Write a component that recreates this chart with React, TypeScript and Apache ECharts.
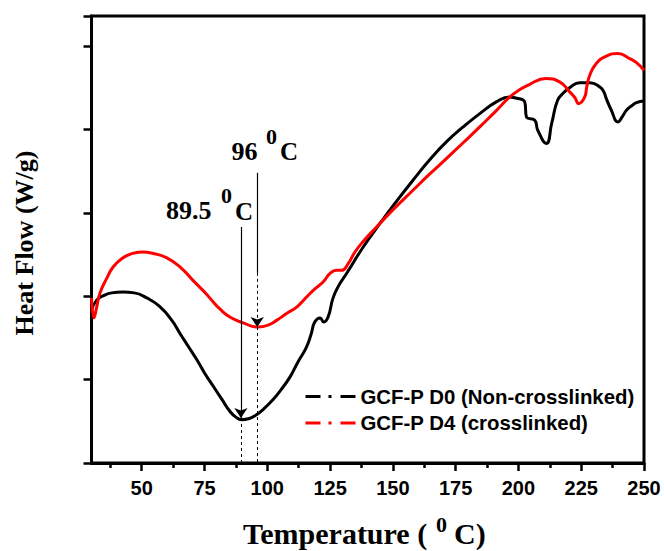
import React, { useEffect, useRef } from "react";
import * as echarts from "echarts";

// ---- Data ----
const tempD0 = [30, 32, 35, 38, 42.5, 47, 52, 57, 62, 65.3, 68.5, 71.9, 75, 78.5, 82, 85.1, 87.5, 89.8, 92.5, 95.7, 99, 102.3, 105.5, 109, 112, 115.6, 117.5, 118.9, 121, 122.5, 124.2, 126.2, 128.5, 131.5, 138.2, 144.8, 151.5, 158, 164.5, 171.3, 178, 184.6, 191.2, 196.5, 198.5, 202.5, 203.2, 206.5, 207.7, 211.1, 213.3, 215.6, 218, 220.4, 224.4, 228.4, 232.4, 234, 235, 237, 239.6, 241.5, 243, 245, 247, 250];
const heatD0 = [1.83, 1.95, 2.01, 2.04, 2.05, 2.04, 1.98, 1.88, 1.71, 1.55, 1.4, 1.24, 1.08, 0.92, 0.76, 0.62, 0.55, 0.52, 0.53, 0.58, 0.66, 0.76, 0.88, 1.03, 1.2, 1.39, 1.55, 1.69, 1.74, 1.69, 1.75, 1.98, 2.13, 2.27, 2.59, 2.87, 3.14, 3.39, 3.63, 3.85, 4.03, 4.19, 4.33, 4.39, 4.38, 4.33, 4.15, 4.11, 3.99, 3.83, 4.08, 4.35, 4.44, 4.5, 4.56, 4.56, 4.51, 4.45, 4.37, 4.23, 4.09, 4.16, 4.23, 4.28, 4.32, 4.34];

const tempD4 = [30, 31, 32, 33.4, 36, 38.6, 42, 46, 50, 55, 60, 65.3, 70.4, 75, 78.5, 81, 85.1, 90.4, 96.4, 100, 103.7, 107.5, 111.7, 115, 118.3, 122.2, 124.9, 127.5, 129.6, 132.2, 134.9, 138, 143.5, 150.5, 158, 164.5, 171.3, 178, 184.6, 191, 197.8, 204.5, 211, 216.4, 220.4, 222.5, 224, 226.4, 227.2, 228.4, 231, 235, 239.6, 244.3, 247, 250];
const heatD4 = [1.98, 1.74, 1.86, 2.04, 2.21, 2.35, 2.45, 2.51, 2.53, 2.51, 2.46, 2.35, 2.19, 2.05, 1.93, 1.85, 1.75, 1.68, 1.63, 1.65, 1.71, 1.79, 1.87, 1.97, 2.07, 2.17, 2.27, 2.31, 2.31, 2.39, 2.53, 2.65, 2.83, 3.05, 3.27, 3.46, 3.65, 3.84, 4.03, 4.22, 4.42, 4.54, 4.61, 4.57, 4.45, 4.38, 4.31, 4.39, 4.51, 4.65, 4.79, 4.88, 4.91, 4.85, 4.8, 4.71];

const seriesNames = ["GCF-P D0 (Non-crosslinked)", "GCF-P D4 (crosslinked)"];
const xMajorTicks = [50, 75, 100, 125, 150, 175, 200, 225, 250];
const xMinorTicks = [37.5, 62.5, 87.5, 112.5, 137.5, 162.5, 187.5, 212.5, 237.5];

// Peak annotations: temperature, arrow start, arrow tip, solid/dashed split
const peakTemps = [89.5, 96];
const peakArrowTop = [2.83, 3.48];
const peakArrowTip = [0.54, 1.63];
const peakSolidEnd = [0.54, 2.28];

const SERIF = '"Liberation Serif", "Times New Roman", serif';
const SANS = '"Liberation Sans", Arial, sans-serif';

export default function App() {
  const ref = useRef<HTMLDivElement>(null);

  useEffect(() => {
    if (!ref.current) return;
    const chart = echarts.init(ref.current, undefined, { renderer: "svg" });

    const solid = { type: "solid", width: 1.2, color: "#000" };
    const dashed = { type: [3, 3], width: 1, color: "#000" };
    const markData: any[] = [];
    peakTemps.forEach((t, i) => {
      const top = peakArrowTop[i];
      const tip = peakArrowTip[i];
      const split = peakSolidEnd[i];
      if (split > tip) {
        markData.push([
          { coord: [t, top], symbol: "none", lineStyle: solid },
          { coord: [t, split], symbol: "none", lineStyle: solid },
        ]);
        markData.push([
          { coord: [t, split], symbol: "none", lineStyle: dashed },
          { coord: [t, tip], symbol: "arrow", symbolSize: 10, lineStyle: dashed },
        ]);
      } else {
        markData.push([
          { coord: [t, top], symbol: "none", lineStyle: solid },
          { coord: [t, tip], symbol: "arrow", symbolSize: 10, lineStyle: solid },
        ]);
      }
      markData.push([
        { coord: [t, tip], symbol: "none", lineStyle: dashed },
        { coord: [t, 0], symbol: "none", lineStyle: dashed },
      ]);
    });

    const legendDash = [15, 8, 3, 9];

    const option: any = {
      animation: false,
      backgroundColor: "#fff",
      grid: {
        left: 91.5,
        right: 20,
        top: 16,
        bottom: 88,
        show: true,
        borderColor: "#000",
        borderWidth: 3,
        backgroundColor: "transparent",
      },
      xAxis: [
        {
          type: "value",
          min: 30,
          max: 250,
          position: "bottom",
          axisLine: { show: true, onZero: false, lineStyle: { color: "#000", width: 3 } },
          axisTick: {
            show: true,
            inside: false,
            length: 8,
            customValues: xMajorTicks,
            lineStyle: { color: "#000", width: 2.5 },
          },
          axisLabel: {
            show: true,
            customValues: xMajorTicks,
            margin: 15,
            color: "#000",
            fontFamily: SANS,
            fontWeight: 900,
            fontSize: 20,
          },
          splitLine: { show: false },
        },
        {
          type: "value",
          min: 30,
          max: 250,
          position: "bottom",
          axisLine: { show: false, onZero: false },
          axisTick: {
            show: true,
            inside: false,
            length: 5,
            customValues: xMinorTicks,
            lineStyle: { color: "#000", width: 2.5 },
          },
          axisLabel: { show: false },
          splitLine: { show: false },
        },
      ],
      yAxis: {
        type: "value",
        min: 0,
        max: 5.36,
        interval: 1,
        axisLine: { show: true, onZero: false, lineStyle: { color: "#000", width: 3 } },
        axisTick: { show: true, inside: false, length: 8, lineStyle: { color: "#000", width: 2.5 } },
        axisLabel: { show: false },
        splitLine: { show: false },
      },
      legend: {
        left: 299,
        top: 381.5,
        orient: "vertical",
        itemWidth: 50,
        itemHeight: 14,
        itemGap: 6.6,
        textStyle: { fontFamily: SANS, fontWeight: "bold", fontSize: 20.4, color: "#000" },
        itemStyle: { opacity: 0 },
        lineStyle: { type: legendDash, width: 3 },
        data: [
          {
            name: seriesNames[0],
            itemStyle: { opacity: 0, color: "transparent", borderWidth: 0 },
            lineStyle: { type: legendDash, width: 3, color: "#000" },
          },
          {
            name: seriesNames[1],
            itemStyle: { opacity: 0, color: "transparent", borderWidth: 0 },
            lineStyle: { type: legendDash, width: 3, color: "#ff0000" },
          },
        ],
      },
      series: [
        {
          name: seriesNames[0],
          type: "line",
          xAxisIndex: 0,
          data: tempD0.map((t, i) => [t, heatD0[i]]),
          symbol: "none",
          showSymbol: false,
          smooth: 0.5,
          lineStyle: { color: "#000", width: 3 },
          itemStyle: { color: "#000" },
          markLine: {
            silent: true,
            animation: false,
            symbol: ["none", "none"],
            label: { show: false },
            emphasis: { disabled: true },
            data: markData,
          },
        },
        {
          name: seriesNames[1],
          type: "line",
          xAxisIndex: 0,
          data: tempD4.map((t, i) => [t, heatD4[i]]),
          symbol: "none",
          showSymbol: false,
          smooth: 0.5,
          lineStyle: { color: "#ff0000", width: 3 },
          itemStyle: { color: "#ff0000" },
        },
      ],
      graphic: [
        {
          type: "text",
          x: 24,
          y: 243,
          rotation: Math.PI / 2,
          style: {
            text: "Heat Flow (W/g)",
            fill: "#000",
            font: `bold 26px ${SERIF}`,
            align: "center",
            verticalAlign: "middle",
          },
        },
        {
          type: "text",
          x: 243,
          y: 533,
          style: { text: "Temperature (", fill: "#000", font: `bold 30px ${SERIF}`, align: "left", verticalAlign: "middle" },
        },
        {
          type: "text",
          x: 436,
          y: 524,
          style: { text: "0", fill: "#000", font: `bold 22px ${SERIF}`, align: "left", verticalAlign: "middle" },
        },
        {
          type: "text",
          x: 454,
          y: 533,
          style: { text: "C)", fill: "#000", font: `bold 30px ${SERIF}`, align: "left", verticalAlign: "middle" },
        },
        {
          type: "text",
          x: 166,
          y: 210,
          style: { text: "89.5", fill: "#000", font: `bold 26px ${SERIF}`, align: "left", verticalAlign: "middle" },
        },
        {
          type: "text",
          x: 221,
          y: 195,
          style: { text: "0", fill: "#000", font: `bold 22px ${SERIF}`, align: "left", verticalAlign: "middle" },
        },
        {
          type: "text",
          x: 235,
          y: 211.5,
          style: { text: "C", fill: "#000", font: `bold 25px ${SERIF}`, align: "left", verticalAlign: "middle" },
        },
        {
          type: "text",
          x: 231.5,
          y: 151.5,
          style: { text: "96", fill: "#000", font: `bold 26px ${SERIF}`, align: "left", verticalAlign: "middle" },
        },
        {
          type: "text",
          x: 266,
          y: 136.5,
          style: { text: "0", fill: "#000", font: `bold 22px ${SERIF}`, align: "left", verticalAlign: "middle" },
        },
        {
          type: "text",
          x: 280,
          y: 151.5,
          style: { text: "C", fill: "#000", font: `bold 25px ${SERIF}`, align: "left", verticalAlign: "middle" },
        },
      ],
    };

    chart.setOption(option);
    return () => chart.dispose();
  }, []);

  return (
    <div
      ref={ref}
      style={{ position: "fixed", left: 0, top: 0, width: 664, height: 551, background: "#fff" }}
    />
  );
}
